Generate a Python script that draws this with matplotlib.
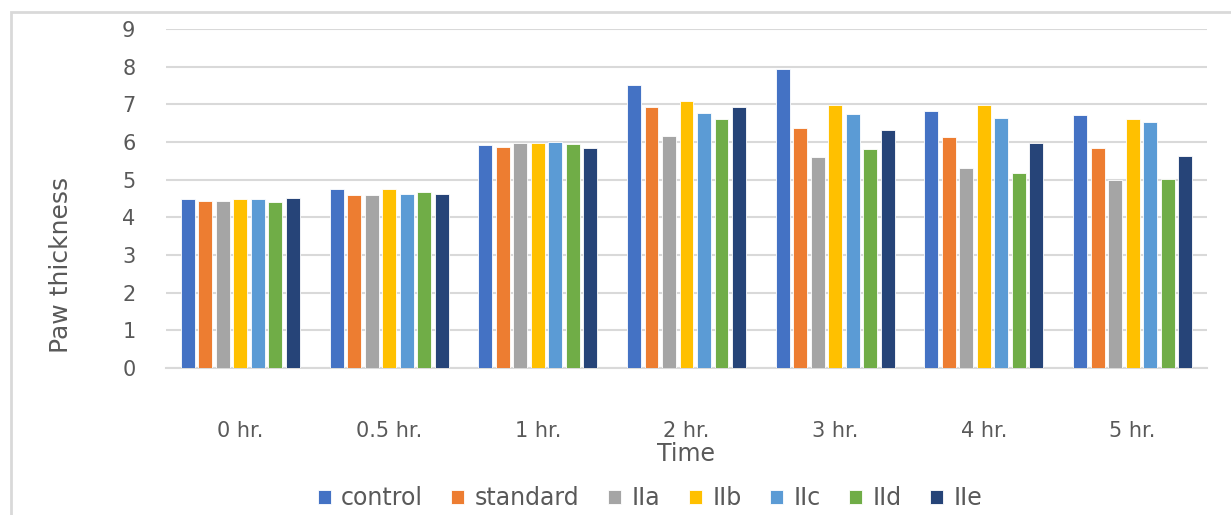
import matplotlib
matplotlib.use("Agg")
import matplotlib.pyplot as plt
import numpy as np
from matplotlib.patches import Rectangle

categories = ["0 hr.", "0.5 hr.", "1 hr.", "2 hr.", "3 hr.", "4 hr.", "5 hr."]
series_names = ["control", "standard", "IIa", "IIb", "IIc", "IId", "IIe"]
control  = [4.48, 4.74, 5.92, 7.51, 7.94, 6.83, 6.71]
standard = [4.44, 4.59, 5.86, 6.93, 6.36, 6.13, 5.83]
IIa      = [4.44, 4.59, 5.98, 6.16, 5.59, 5.32, 4.99]
IIb      = [4.48, 4.74, 5.98, 7.09, 6.98, 6.98, 6.60]
IIc      = [4.48, 4.63, 6.01, 6.78, 6.75, 6.63, 6.53]
IId      = [4.40, 4.66, 5.95, 6.62, 5.82, 5.17, 5.02]
IIe      = [4.52, 4.63, 5.84, 6.93, 6.32, 5.98, 5.64]
series_values = [control, standard, IIa, IIb, IIc, IId, IIe]
colors = ["#4472C4", "#ED7D31", "#A5A5A5", "#FFC000", "#5B9BD5", "#70AD47", "#264478"]
yticks = list(range(0, 10))

plt.rcParams['font.family'] = ['DejaVu Sans']
text_color = "#595959"
grid_color = "#D9D9D9"

W, H = 1231, 515
fig = plt.figure(figsize=(W / 100, H / 100), dpi=100)
ax = fig.add_axes([166 / W, 1 - 368 / H, (1207 - 166) / W, (368 - 29) / H])

x = np.arange(len(categories))
pitch = 0.1177
width = 0.094
n = len(series_names)
for i, (name, vals, c) in enumerate(zip(series_names, series_values, colors)):
    offs = (i - (n - 1) / 2) * pitch
    ax.bar(x + offs, vals, width=width, color=c, edgecolor="white",
           linewidth=0.6, label=name, zorder=3)

ax.set_xlim(-0.5, len(categories) - 0.5)
ax.set_ylim(0, 9)
ax.set_yticks(yticks)
ax.set_xticks(x)
ax.set_xticklabels(categories)
ax.yaxis.grid(True, color=grid_color, linewidth=1.5, zorder=0)
ax.set_axisbelow(True)
for s in ["top", "right", "left"]:
    ax.spines[s].set_visible(False)
ax.spines["bottom"].set_color(grid_color)
ax.spines["bottom"].set_linewidth(1.5)
ax.tick_params(axis="both", length=0, colors=text_color, labelsize=15)
ax.tick_params(axis="y", pad=22)
ax.tick_params(axis="x", pad=38)

fig.text(686 / W, 1 - 454 / H, "Time", ha="center", va="center",
         fontsize=17, color=text_color)
fig.text(61 / W, 1 - 265 / H, "Paw thickness", ha="center", va="center",
         rotation=90, fontsize=18, color=text_color)

leg = fig.legend(loc="center", bbox_to_anchor=(650 / W, 1 - 498 / H), ncol=7,
                 frameon=False, fontsize=17, handlelength=0.55, handleheight=0.55,
                 handletextpad=0.45, columnspacing=1.2, borderaxespad=0)
for t in leg.get_texts():
    t.set_color(text_color)

# chart border (cut off at right and bottom)
fig.patches.append(Rectangle((11 / W, -0.2), 1.2, 1.2 - 12 / H,
                             transform=fig.transFigure, fill=False,
                             edgecolor=grid_color, linewidth=2))

fig.savefig("out.png", dpi=100)
